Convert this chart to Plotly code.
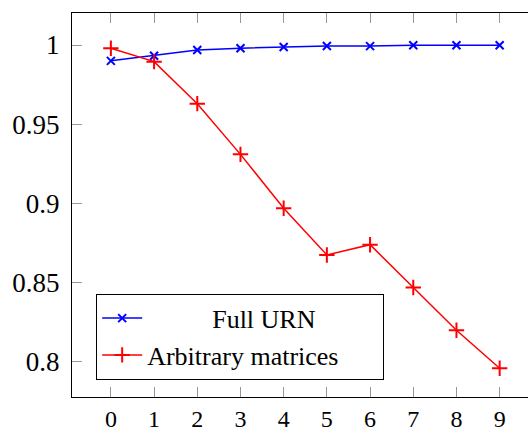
import plotly.graph_objects as go

x_vals = [0, 1, 2, 3, 4, 5, 6, 7, 8, 9]
full_urn = [0.990, 0.9932, 0.9968, 0.998, 0.9987, 0.9994, 0.9993, 0.9999, 0.9999, 0.9999]
arbitrary = [0.998, 0.9895, 0.963, 0.931, 0.897, 0.8675, 0.874, 0.847, 0.820, 0.796]
y_ticks = [0.8, 0.85, 0.9, 0.95, 1]
y_tick_text = ["0.8", "0.85", "0.9", "0.95", "1"]

FONT = "Liberation Serif"
NB = "\u00a0"

fig = go.Figure()
fig.add_trace(go.Scatter(
    x=x_vals, y=full_urn, mode="lines+markers",
    name=NB * 10 + "Full URN",
    line=dict(color="#0000ff", width=1.5),
    marker=dict(symbol="x-thin", size=8, line=dict(color="#0000ff", width=2)),
))
fig.add_trace(go.Scatter(
    x=x_vals, y=arbitrary, mode="lines+markers",
    name="Arbitrary matrices" + NB * 6,
    line=dict(color="#ff0000", width=1.5),
    marker=dict(symbol="cross-thin", size=11, line=dict(color="#ff0000", width=2)),
))

fig.update_layout(
    width=528, height=432,
    margin=dict(l=72, r=0, t=13, b=35),
    paper_bgcolor="white", plot_bgcolor="white",
    font=dict(family=FONT, size=27, color="black"),
    showlegend=True,
    legend=dict(
        x=0.053, y=0.045, xanchor="left", yanchor="bottom",
        bordercolor="black", borderwidth=1, bgcolor="white",
        font=dict(family=FONT, size=26, color="black"),
        tracegroupgap=0, itemwidth=40,
    ),
)
fig.update_xaxes(
    range=[-0.9, 9.656], tickmode="array", tickvals=x_vals,
    ticktext=[str(v) for v in x_vals],
    showgrid=False, zeroline=False, automargin=False,
    showline=True, linecolor="black", linewidth=1, mirror="ticks",
    ticks="inside", ticklen=10, tickwidth=1, tickcolor="#999999",
    tickfont=dict(family=FONT, size=24),
)
fig.update_yaxes(
    range=[0.7779, 1.0202], tickmode="array", tickvals=y_ticks, ticktext=y_tick_text,
    showgrid=False, zeroline=False, automargin=False,
    showline=True, linecolor="black", linewidth=1, mirror=False,
    ticks="inside", ticklen=10, tickwidth=1, tickcolor="#999999",
    tickfont=dict(family=FONT, size=27),
    ticklabelstandoff=6,
)

fig.write_html(
    "out.html",
    config={"displayModeBar": False},
    post_script="document.body.style.margin='0';document.body.style.overflow='hidden';",
)
